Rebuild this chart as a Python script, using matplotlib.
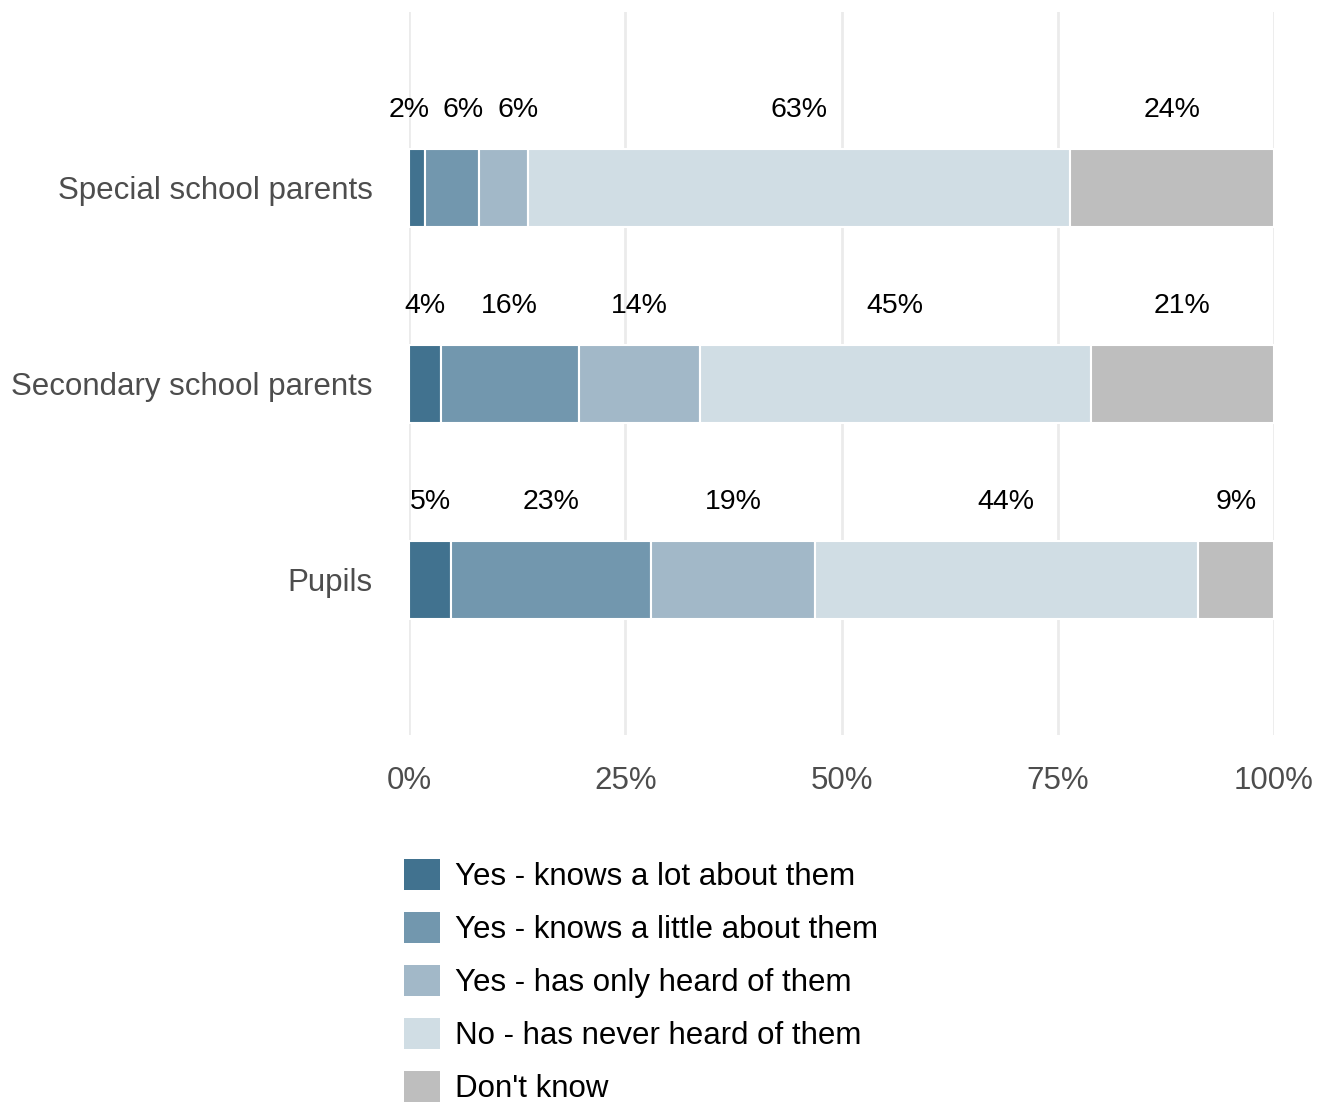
import numpy as np
import matplotlib.pyplot as plt
from matplotlib.patches import Patch

plt.rcParams['font.family'] = ['Liberation Sans', 'DejaVu Sans']

# survey groups, bottom to top
groups = ["Pupils", "Secondary school parents", "Special school parents"]
answers = [
    "Yes - knows a lot about them",
    "Yes - knows a little about them",
    "Yes - has only heard of them",
    "No - has never heard of them",
    "Don't know",
]
colors = ["#41728F", "#7297AE", "#A2B8C8", "#D0DDE4", "#BEBEBE"]

# share of each answer (%) per group
pupils    = [4.9, 23.1, 18.9, 44.3, 8.8]
secondary = [3.7, 15.9, 14.0, 45.2, 21.2]
special   = [1.8, 6.3, 5.6, 62.7, 23.6]
shares = np.array([pupils, secondary, special])


def spread(xs, gap):
    # push crowded labels apart, keeping clusters centred on their mean
    clusters = [[x] for x in xs]
    merged = True
    while merged:
        merged = False
        out = [clusters[0]]
        for c in clusters[1:]:
            prev = out[-1]
            c_prev = np.mean(prev) + gap * (len(prev) - 1) / 2
            c_next = np.mean(c) - gap * (len(c) - 1) / 2
            if c_next - c_prev < gap:
                out[-1] = prev + c
                merged = True
            else:
                out.append(c)
        clusters = out
    pos = []
    for c in clusters:
        start = np.mean(c) - gap * (len(c) - 1) / 2
        start = max(start, 0)
        pos += [start + gap * k for k in range(len(c))]
    return pos


fig = plt.figure(figsize=(13.27, 11.04), dpi=100)
ax = fig.add_axes([409 / 1327, 1 - 735 / 1104, 865 / 1327, 723 / 1104])

ypos = np.arange(1, len(groups) + 1)
left = np.zeros(len(groups))
for j, (ans, col) in enumerate(zip(answers, colors)):
    ax.barh(ypos, shares[:, j], left=left, height=0.4, color=col,
            edgecolor='white', linewidth=1.5, zorder=2)
    left += shares[:, j]

# percentage labels above each bar
for i, y in enumerate(ypos):
    row = shares[i]
    mids = np.cumsum(row) - row / 2
    for x, v in zip(spread(mids, 6.3), row):
        ax.text(x, y + 0.4, f"{v:.0f}%", ha='center', va='center',
                fontsize=20.5, color='black', clip_on=False)

ax.set_xlim(0, 100)
ax.set_ylim(0.209, 3.898)
ax.set_xticks([0, 25, 50, 75, 100])
ax.set_xticklabels(["0%", "25%", "50%", "75%", "100%"])
ax.set_yticks(ypos)
ax.set_yticklabels(groups)
ax.tick_params(axis='both', length=0, labelsize=22.5, colors='#4D4D4D')
ax.tick_params(axis='x', pad=22)
ax.tick_params(axis='y', pad=26)
ax.grid(axis='x', color='#EBEBEB', linewidth=2, zorder=0)
ax.set_axisbelow(True)
for s in ax.spines.values():
    s.set_visible(False)

handles = [Patch(facecolor=c, edgecolor='none') for c in colors]
fig.legend(handles, answers, loc='upper left',
           bbox_to_anchor=(391 / 1327, 1 - 846 / 1104), frameon=False,
           fontsize=22.5, handlelength=1.18, handleheight=1.18,
           labelspacing=0.63, handletextpad=0.48, borderaxespad=0)

fig.savefig("out.png", dpi=100)
